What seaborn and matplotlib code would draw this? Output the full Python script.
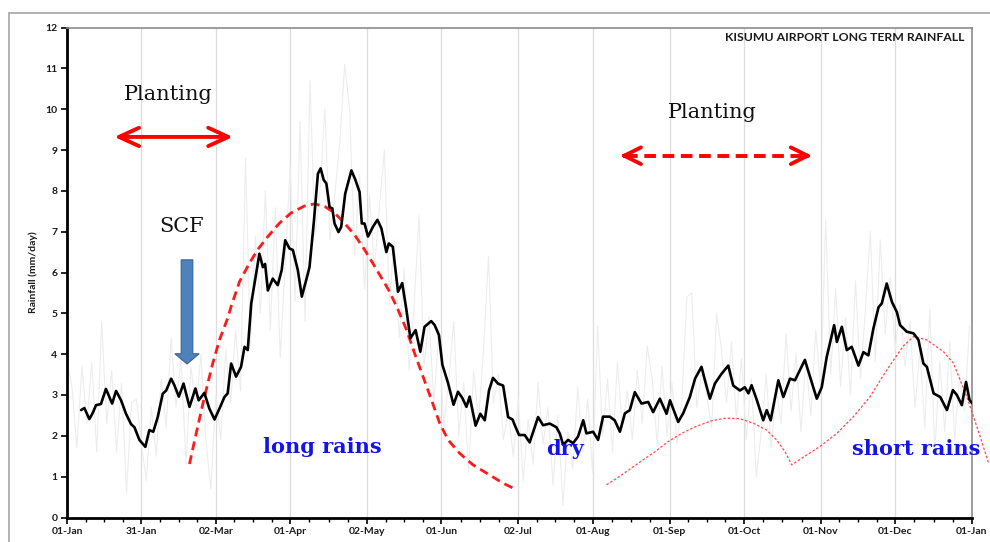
import matplotlib
matplotlib.use("Agg")
import matplotlib.pyplot as plt
import matplotlib.patches as mpatches
from matplotlib.lines import Line2D
from matplotlib.ticker import FixedLocator
import seaborn as sns

# ---------------- data ----------------
tick_days = [0, 30, 60, 90, 121, 151, 182, 212, 243, 273, 304, 334, 365]
tick_labels = ["01-Jan", "31-Jan", "02-Mar", "01-Apr", "02-May", "01-Jun", "02-Jul",
               "01-Aug", "01-Sep", "01-Oct", "01-Nov", "01-Dec", "01-Jan"]

# daily (every 2nd day) long term values - faint grey
grey_days = list(range(0, 365, 2))
grey_vals = [3.9, 3.2, 1.7, 3.7, 2.3, 3.8, 1.6, 4.8, 2.3, 3.6,
             1.6, 3.3, 0.6, 2.8, 2.9, 1.8, 0.9, 2.7, 1.5, 3.4,
             2.2, 4.4, 2.7, 3.9, 1.3, 3.7, 2.6, 4.0, 1.9, 0.7,
             3.0, 1.9, 4.1, 2.8, 4.6, 3.1, 8.8, 4.2, 6.9, 5.0,
             8.0, 4.6, 7.6, 3.9, 6.2, 8.6, 5.3, 9.7, 4.8, 10.7,
             6.9, 8.0, 10.0, 6.8, 7.9, 9.2, 11.1, 10.0, 6.4, 8.4,
             5.6, 7.9, 6.1, 7.6, 9.0, 5.2, 6.8, 4.4, 6.1, 3.6,
             5.2, 7.4, 3.7, 4.9, 2.8, 4.6, 2.2, 3.4, 4.8, 2.0,
             3.3, 1.1, 3.6, 2.4, 4.1, 6.4, 2.8, 3.5, 1.9, 2.6,
             1.5, 2.9, 0.9, 2.4, 1.3, 3.3, 1.8, 2.7, 0.8, 2.5,
             0.3, 2.1, 1.2, 3.2, 1.6, 2.9, 1.1, 4.7, 2.0, 3.4,
             1.6, 3.8, 2.2, 3.1, 1.9, 3.6, 2.3, 4.2, 3.4, 1.8,
             3.7, 2.0, 3.3, 1.8, 2.9, 5.4, 5.5, 2.7, 3.6, 3.0,
             2.2, 5.0, 4.1, 2.8, 4.3, 2.4, 3.9, 1.9, 3.4, 1.0,
             2.1, 3.5, 1.7, 3.2, 2.3, 4.5, 2.6, 4.0, 2.1, 3.9,
             2.5, 4.6, 3.1, 7.3, 3.5, 5.6, 3.2, 4.9, 3.0, 5.8,
             3.4, 5.1, 7.0, 3.8, 6.8, 4.5, 5.9, 4.1, 5.2, 3.7,
             4.8, 2.7, 4.1, 2.2, 5.1, 1.6, 3.8, 2.1, 4.3, 1.9, 3.5, 2.6, 4.7]

# smoothed long term rainfall (day of year, mm/day)
black_pts = [(5.7, 2.63), (7.0, 2.68), (9.0, 2.41), (10.3, 2.55), (11.7, 2.75), (13.7, 2.78),
             (15.7, 3.15), (18.2, 2.79), (19.8, 3.10), (21.8, 2.87), (23.8, 2.54), (25.8, 2.29),
             (27.2, 2.21), (29.2, 1.90), (31.6, 1.73), (33.2, 2.14), (34.8, 2.10), (36.6, 2.46),
             (38.6, 3.03), (40.0, 3.11), (42.0, 3.40), (43.3, 3.24), (45.1, 2.96), (47.0, 3.28),
             (49.4, 2.71), (51.8, 3.16), (53.1, 2.87), (55.4, 3.05), (57.4, 2.67), (59.5, 2.40),
             (61.5, 2.67), (63.5, 2.95), (64.8, 3.04), (66.2, 3.77), (68.2, 3.45), (70.2, 3.69),
             (71.6, 4.18), (72.9, 4.10), (74.3, 5.24), (76.3, 5.97), (77.6, 6.46), (79.0, 6.13),
             (79.9, 6.21), (81.0, 5.56), (83.0, 5.85), (85.0, 5.69), (86.6, 6.06), (88.0, 6.79),
             (89.7, 6.59), (91.1, 6.55), (93.1, 6.06), (94.7, 5.41), (96.5, 5.82), (97.8, 6.13),
             (99.6, 7.27), (101.2, 8.42), (102.3, 8.55), (103.5, 8.27), (104.6, 8.18), (105.9, 7.60),
             (107.0, 7.57), (107.9, 7.20), (109.5, 6.99), (110.6, 7.12), (112.2, 7.93), (114.7, 8.50),
             (116.3, 8.27), (118.0, 7.97), (118.9, 7.20), (120.0, 7.20), (121.4, 6.88), (123.4, 7.12),
             (125.2, 7.29), (126.8, 7.08), (128.8, 6.50), (129.8, 6.71), (131.4, 6.63), (133.5, 5.53),
             (135.2, 5.74), (136.9, 5.08), (138.5, 4.39), (140.6, 4.59), (142.5, 4.06), (144.2, 4.67),
             (146.9, 4.81), (148.3, 4.71), (150.0, 4.47), (151.4, 3.74), (153.7, 3.29), (155.9, 2.76),
             (157.7, 3.08), (159.5, 2.92), (161.1, 2.71), (162.4, 2.96), (164.8, 2.25), (166.7, 2.54),
             (168.5, 2.38), (170.2, 3.11), (171.8, 3.42), (173.8, 3.28), (175.9, 3.23), (177.9, 2.46),
             (179.7, 2.40), (180.6, 2.26), (182.3, 2.02), (184.6, 2.02), (186.6, 1.84), (190.0, 2.46),
             (192.0, 2.26), (194.7, 2.30), (197.4, 2.21), (198.8, 2.05), (200.1, 1.78), (202.1, 1.90),
             (204.1, 1.82), (206.1, 1.98), (208.2, 2.38), (209.5, 2.06), (212.2, 2.10), (214.2, 1.90),
             (216.2, 2.47), (218.9, 2.47), (220.9, 2.38), (223.0, 2.10), (225.0, 2.55), (227.0, 2.63),
             (229.0, 3.07), (231.7, 2.79), (234.4, 2.83), (236.4, 2.58), (239.1, 2.91), (241.8, 2.54),
             (243.2, 2.87), (246.5, 2.34), (248.5, 2.55), (251.2, 2.95), (253.3, 3.40), (255.9, 3.69),
             (257.3, 3.36), (259.3, 2.91), (261.3, 3.28), (264.0, 3.52), (266.7, 3.72), (268.7, 3.23),
             (271.4, 3.11), (273.4, 3.19), (274.8, 3.04), (276.1, 3.24), (278.2, 2.88), (280.8, 2.38),
             (282.2, 2.63), (283.8, 2.38), (286.9, 3.36), (288.9, 2.95), (291.6, 3.40), (293.6, 3.36),
             (297.6, 3.86), (299.7, 3.44), (302.4, 2.91), (304.4, 3.19), (306.4, 3.93), (309.4, 4.71),
             (310.5, 4.30), (312.5, 4.67), (314.5, 4.10), (316.5, 4.18), (319.2, 3.72), (321.2, 4.05),
             (323.2, 3.97), (325.2, 4.62), (327.3, 5.15), (328.6, 5.24), (330.6, 5.73), (332.7, 5.28),
             (334.7, 5.03), (336.0, 4.71), (338.7, 4.55), (341.4, 4.51), (343.4, 4.35), (345.4, 3.77),
             (346.8, 3.69), (349.5, 3.04), (352.2, 2.95), (354.9, 2.63), (357.3, 3.12), (358.9, 3.00),
             (360.9, 2.75), (362.6, 3.32), (364.0, 2.88), (365.0, 2.80)]

# hand-drawn seasonal curves
long_rains_pts = [(49.4, 1.31), (52.1, 2.06), (54.7, 2.76), (56.8, 3.29), (58.8, 3.78), (61.5, 4.35),
                  (64.8, 4.88), (66.2, 5.17), (69.6, 5.78), (73.6, 6.23), (76.9, 6.56), (81.0, 6.88),
                  (85.7, 7.21), (90.4, 7.46), (95.8, 7.63), (99.8, 7.68), (103.9, 7.62), (107.9, 7.46),
                  (111.9, 7.21), (116.0, 6.92), (120.0, 6.56), (124.1, 6.15), (128.1, 5.74),
                  (130.1, 5.53), (133.5, 5.09), (136.9, 4.60), (140.2, 4.02), (143.6, 3.45),
                  (147.0, 2.88), (150.3, 2.31), (153.7, 1.90), (158.4, 1.57), (163.7, 1.29),
                  (170.5, 1.04), (175.9, 0.84), (179.9, 0.72)]
short_rains_pts = [(217.6, 0.80), (223.7, 1.04), (230.4, 1.33), (237.1, 1.61), (242.5, 1.86),
                   (247.9, 2.06), (253.3, 2.22), (260.0, 2.37), (265.4, 2.43), (271.4, 2.42),
                   (276.8, 2.31), (282.2, 2.14), (286.2, 1.90), (289.6, 1.61), (292.3, 1.29),
                   (298.3, 1.53), (303.7, 1.74), (310.5, 2.06), (317.2, 2.47), (323.9, 2.96),
                   (330.7, 3.62), (337.3, 4.20), (341.4, 4.43), (346.8, 4.35), (353.5, 4.06),
                   (357.5, 3.78), (360.2, 3.37), (362.9, 2.96), (365.6, 2.47), (368.3, 1.98),
                   (371.7, 1.33)]

planting1 = (19.1, 66.9, 9.32)
planting2 = (223.0, 300.4, 8.86)
scf_arrow = (48.4, 6.31, 3.76)

# ---------------- figure ----------------
sns.set_theme(style="white")
plt.rcParams["font.family"] = ["Lato", "DejaVu Sans"]

fig = plt.figure(figsize=(9.9, 5.42), dpi=100)
ax = fig.add_axes([67 / 990, 1 - 517.5 / 542, 905 / 990, 490 / 542])

# outer frame (top + left)
fig.add_artist(Line2D([9 / 990, 1.0], [1 - 13 / 542] * 2, transform=fig.transFigure,
                      color="#a6a6a6", lw=1.2))
fig.add_artist(Line2D([9 / 990] * 2, [0, 1 - 13 / 542], transform=fig.transFigure,
                      color="#a6a6a6", lw=1.2))

ax.set_xlim(0, 365)
ax.set_ylim(0, 12)

# vertical grid
for d in tick_days[1:-1]:
    ax.axvline(d, color="#dcdcdc", lw=0.9, zorder=0)

sns.lineplot(x=grey_days, y=grey_vals, ax=ax, color="#ededed", lw=0.8, zorder=1)
bx = [p[0] for p in black_pts]
by = [p[1] for p in black_pts]
sns.lineplot(x=bx, y=by, ax=ax, color="black", lw=1.9, zorder=4)

lx = [p[0] for p in long_rains_pts]
ly = [p[1] for p in long_rains_pts]
sns.lineplot(x=lx, y=ly, ax=ax, color="#ff1a1a", lw=2.0, zorder=3,
             linestyle=(0, (3.2, 1.9)))
sx = [p[0] for p in short_rains_pts]
sy = [p[1] for p in short_rains_pts]
sns.lineplot(x=sx, y=sy, ax=ax, color="#ff4a4a", lw=0.9, zorder=3,
             linestyle=(0, (2, 1.5)), clip_on=False)

# planting arrows
ax.annotate("", xy=(planting1[0], planting1[2]), xytext=(planting1[1], planting1[2]),
            arrowprops=dict(arrowstyle="<->,head_length=1.2,head_width=0.55",
                            color="#ff0000", lw=2.8, shrinkA=0, shrinkB=0))
ax.plot([planting2[0] + 2.5, planting2[1] - 2.5], [planting2[2]] * 2, color="#ff0000",
        lw=2.8, linestyle=(0, (3.0, 1.7)))
ax.annotate("", xy=(planting2[0], planting2[2]), xytext=(planting2[0] + 3, planting2[2]),
            arrowprops=dict(arrowstyle="->,head_length=1.0,head_width=0.5",
                            color="#ff0000", lw=2.8, shrinkA=0, shrinkB=0))
ax.annotate("", xy=(planting2[1], planting2[2]), xytext=(planting2[1] - 3, planting2[2]),
            arrowprops=dict(arrowstyle="->,head_length=1.0,head_width=0.5",
                            color="#ff0000", lw=2.8, shrinkA=0, shrinkB=0))

# SCF arrow
arr = mpatches.FancyArrow(scf_arrow[0], scf_arrow[1], 0, scf_arrow[2] - scf_arrow[1],
                          width=4.7, head_width=9.8, head_length=0.25,
                          length_includes_head=True, facecolor="#4f81bd",
                          edgecolor="#3a6492", lw=0.8, zorder=5)
ax.add_patch(arr)

serif = ["DejaVu Serif"]
ax.text(41.0, 10.23, "Planting", family=serif, fontsize=15, ha="center", va="baseline", color="#111111")
ax.text(260.3, 9.78, "Planting", family=serif, fontsize=15, ha="center", va="baseline", color="#111111")
ax.text(46.1, 7.0, "SCF", family=serif, fontsize=15, ha="center", va="baseline", color="#111111")
ax.text(102.8, 1.57, "long rains", family=serif, fontsize=15, fontweight="bold",
        ha="center", va="baseline", color="#1414e6", zorder=6)
ax.text(200.8, 1.53, "dry", family=serif, fontsize=15, fontweight="bold",
        ha="center", va="baseline", color="#1414e6", zorder=6)
ax.text(342.4, 1.53, "short rains", family=serif, fontsize=15, fontweight="bold",
        ha="center", va="baseline", color="#1414e6", zorder=6, clip_on=False)

ax.text(0.992, 0.979, "KISUMU AIRPORT LONG TERM RAINFALL", transform=ax.transAxes,
        ha="right", va="center", fontsize=8.8, fontweight="bold", color="#1a1a1a")

# axes styling
ax.set_xticks(tick_days)
ax.set_xticklabels(tick_labels)
minor = []
for a, b in zip(tick_days[:-1], tick_days[1:]):
    step = (b - a) / 4
    minor += [a + step * k for k in (1, 2, 3)]
ax.xaxis.set_minor_locator(FixedLocator(minor))
ax.set_yticks(range(0, 13))
ax.tick_params(axis="both", which="major", direction="out", length=4, width=1.2,
               labelsize=7.5, color="black", pad=3)
ax.tick_params(axis="x", which="minor", direction="out", length=3, width=1.0, color="black")
ax.tick_params(axis="x", which="both", bottom=True)
ax.tick_params(axis="y", which="both", left=True)
for lab in ax.get_xticklabels() + ax.get_yticklabels():
    lab.set_fontweight("bold")
    lab.set_color("#1a1a1a")

ax.set_ylabel("Rainfall (mm/day)", fontsize=7.5, fontweight="bold", color="#1a1a1a", labelpad=5)
ax.set_xlabel("")

for side in ("left", "bottom"):
    ax.spines[side].set_color("black")
    ax.spines[side].set_linewidth(2.0)
for side in ("top", "right"):
    ax.spines[side].set_color("#8c8c8c")
    ax.spines[side].set_linewidth(1.2)

fig.savefig("out.png", dpi=100)
